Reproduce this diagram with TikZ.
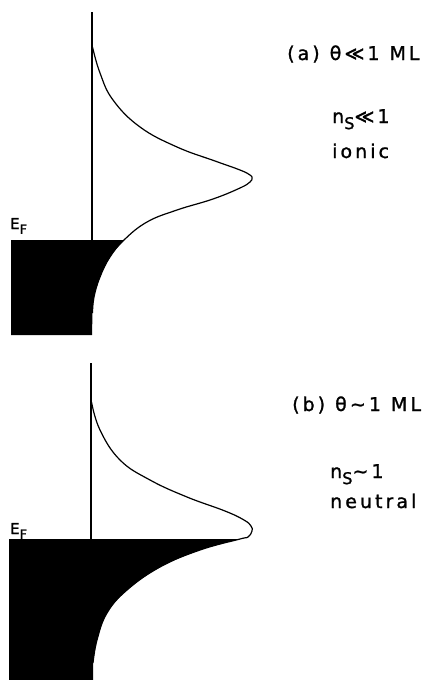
\documentclass[tikz,border=0pt]{standalone}
\usepackage{fontspec}
\setmainfont{DejaVu Sans}[LetterSpace=16, FakeBold=1.2]
\usetikzlibrary{positioning}
\newcommand{\lowsub}[1]{\raisebox{-0.32em}{\fontsize{0.85em}{1em}\selectfont #1}}

\begin{document}
\begin{tikzpicture}[
		x=1pt, y=-1pt,
		axis/.style={line width=1.2pt},
		dos/.style={line width=1.2pt, line join=round},
		lab/.style={anchor=base west, inner sep=0pt, font=\fontsize{19}{21}\selectfont},
		ef/.style={anchor=base west, inner sep=0pt, font=\fontsize{15}{17}\selectfont}
		]
		\useasboundingbox (0,0) rectangle (427,680);
		
		% Panel (a): low coverage
		\draw[axis] (92,12) -- (92,240);
		\fill (11,240) -- plot[smooth] coordinates {(124,240) (110,257) (100,277) (94,297) (92.5,313)}
		-- (92,335) -- (11,335) -- cycle;
		\draw[dos] plot[smooth, tension=0.7] coordinates {
			(92.5,47) (100,73) (113,100) (140,127) (177,147) (215,161) (240,170) (250,175) (252,178)
			(250,182) (240,188) (213,199) (177,210) (147,222) (124,240) (110,257) (100,277) (94,297) (92.5,313)};
		\node[ef] (efa) at (10,229) {E\lowsub{F}};
		
		% Labels (a)
		\node[lab] (capa) at (287,60) {(a)\hspace{10pt}θ\,≪1\hspace{10pt}ML};
		\node[lab] (nsa) at (332,123) {n\lowsub{S}≪1};
		\node[lab] (ionic) at (332,158) {ionic};
		
		% Panel (b): monolayer
		\draw[axis] (91,363) -- (91,539);
		\fill (9,539) -- plot[smooth] coordinates {(240,539) (200,550) (160,567) (127,590) (107,613) (97,640) (93,663)}
		-- (93,680) -- (9,680) -- cycle;
		\draw[dos] plot[smooth, tension=0.7] coordinates {
			(91.5,402) (100,430) (120,460) (150,480) (187,497) (225,511) (244,520) (251,526) (252,531)
			(248,537) (240,539) (200,550) (160,567) (127,590) (107,613) (97,640) (93,663)};
		\node[ef] (efb) at (10,534) {E\lowsub{F}};
		
		% Labels (b)
		\node[lab] (capb) at (292,411) {(b)\hspace{10pt}θ\,∼1\hspace{10pt}ML};
		\node[lab] (nsb) at (330,478) {n\lowsub{S}∼1};
		\node[lab] (neutral) at (330,508) {neutral};
		
	\end{tikzpicture}
\end{document}
